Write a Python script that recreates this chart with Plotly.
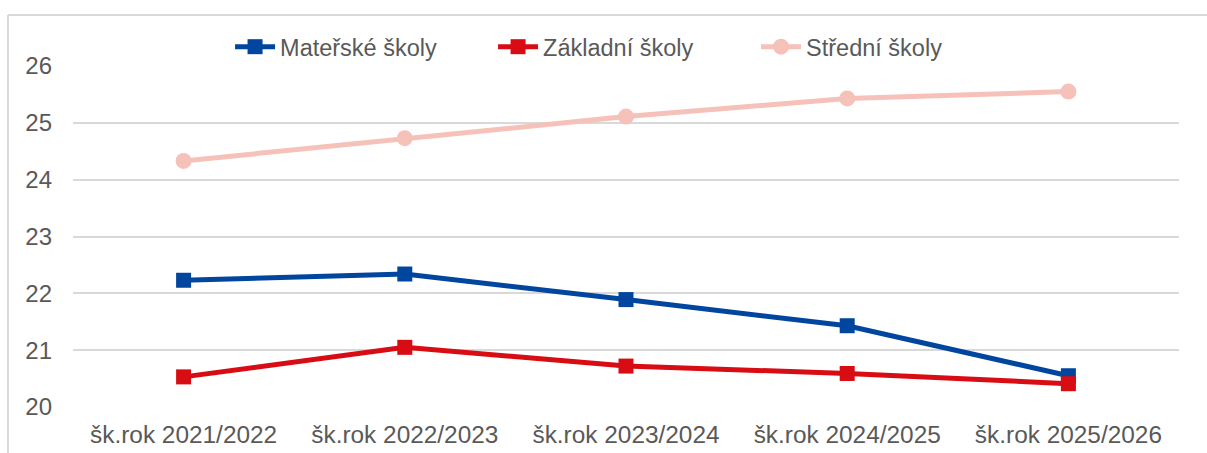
import plotly.graph_objects as go

categories = ["šk.rok 2021/2022", "šk.rok 2022/2023", "šk.rok 2023/2024", "šk.rok 2024/2025", "šk.rok 2025/2026"]
materske = [22.23, 22.34, 21.89, 21.43, 20.55]
zakladni = [20.53, 21.05, 20.72, 20.59, 20.41]
stredni = [24.33, 24.73, 25.11, 25.43, 25.55]

FONT = "Liberation Sans, Arial, sans-serif"
TXT = "#595959"

fig = go.Figure()
fig.add_trace(go.Scatter(x=categories, y=materske, name="Mateřské školy", mode="lines+markers",
                         line=dict(color="#00469E", width=5),
                         marker=dict(symbol="square", size=15, color="#00469E")))
fig.add_trace(go.Scatter(x=categories, y=zakladni, name="Základní školy", mode="lines+markers",
                         line=dict(color="#D80C13", width=5),
                         marker=dict(symbol="square", size=15, color="#D80C13")))
fig.add_trace(go.Scatter(x=categories, y=stredni, name="Střední školy", mode="lines+markers",
                         line=dict(color="#F6C1B9", width=5),
                         marker=dict(symbol="circle", size=16, color="#F6C1B9")))

fig.update_layout(
    width=1207, height=453,
    margin=dict(l=73, r=28, t=66, b=46),
    paper_bgcolor="white", plot_bgcolor="white",
    font=dict(family=FONT, size=24, color=TXT),
    showlegend=True,
    legend=dict(orientation="h", x=0.142, xanchor="left", y=1.056, yanchor="middle",
                font=dict(size=23.5, color=TXT), itemwidth=40, entrywidth=208,
                entrywidthmode="pixels", bgcolor="rgba(0,0,0,0)"),
    xaxis=dict(showgrid=False, showline=False, ticks="", zeroline=False, range=[-0.5, 4.5],
               automargin=False,
               tickfont=dict(size=24.4, color=TXT), ticklabelstandoff=11),
    yaxis=dict(range=[20, 26], dtick=1, showgrid=True, gridcolor="#D9D9D9", gridwidth=2,
               zeroline=False, showline=False, ticks="", automargin=False,
               tickfont=dict(size=24, color=TXT), ticklabelstandoff=20),
    shapes=[
        dict(type="line", xref="paper", yref="paper", x0=-0.0588, x1=1.1, y0=1.1496, y1=1.1496,
             line=dict(color="#D9D9D9", width=2)),
        dict(type="line", xref="paper", yref="paper", x0=-0.0588, x1=-0.0588, y0=1.1496, y1=-0.3,
             line=dict(color="#D9D9D9", width=2)),
    ],
)

fig.write_html("out.html", config={"displayModeBar": False},
               post_script="document.body.style.margin='0';document.body.style.overflow='hidden';")
